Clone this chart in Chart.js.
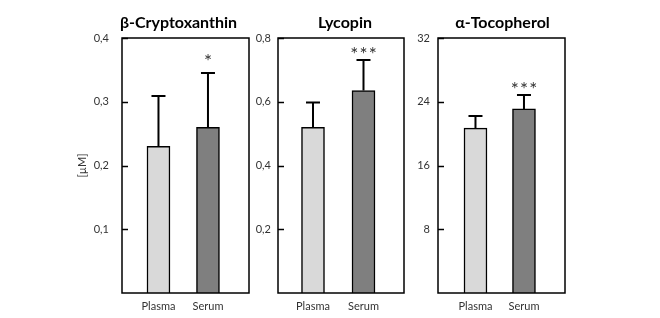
<!DOCTYPE html>
<html>
<head>
<meta charset="utf-8">
<script src="https://cdn.jsdelivr.net/npm/chart.js@4"></script>
<style>
  html, body { margin: 0; padding: 0; background: #fff; }
  body { width: 660px; height: 318px; position: relative; overflow: hidden; }
  .panel { position: absolute; top: 0; }
</style>
</head>
<body>
<div class="panel" style="left:72px"><canvas id="c1" width="183" height="318"></canvas></div>
<div class="panel" style="left:240px"><canvas id="c2" width="170" height="318"></canvas></div>
<div class="panel" style="left:405px"><canvas id="c3" width="166" height="318"></canvas></div>
<script>
// Datos
const categories = ['Plasma', 'Serum'];
const titles = ['β-Cryptoxanthin', 'Lycopin', 'α-Tocopherol'];

const cryptoMean = [0.23, 0.26];
const cryptoSd = [0.079, 0.085];
const cryptoStars = ['', '*'];

const lycoMean = [0.52, 0.635];
const lycoSd = [0.078, 0.096];
const lycoStars = ['', '***'];

const tocoMean = [20.7, 23.1];
const tocoSd = [1.5, 1.75];
const tocoStars = ['', '***'];

const yMax = [0.4, 0.8, 32];
const yStep = [0.1, 0.2, 8];

const barColors = ['#d9d9d9', '#7f7f7f'];
const FONT = 'Lato, "Open Sans", sans-serif';

// Marco, marcas del eje, barras de error, asteriscos y título
const panelPlugin = {
  id: 'panelPlugin',
  afterDatasetsDraw(chart) {
    const ctx = chart.ctx;
    const area = chart.chartArea;
    const y = chart.scales.y;
    const p = chart.options.plugins.panelPlugin;

    ctx.save();
    // marcas hacia dentro
    ctx.strokeStyle = '#000';
    ctx.lineWidth = 1.5;
    y.ticks.forEach(t => {
      if (t.value === 0) return;
      const py = Math.round(y.getPixelForValue(t.value)) + 0.5;
      ctx.beginPath();
      ctx.moveTo(area.left, py);
      ctx.lineTo(area.left + 6, py);
      ctx.stroke();
    });

    // barras de error
    const meta = chart.getDatasetMeta(0);
    ctx.lineWidth = 2;
    meta.data.forEach((bar, i) => {
      const top = y.getPixelForValue(p.mean[i] + p.sd[i]);
      ctx.beginPath();
      ctx.moveTo(bar.x, bar.y);
      ctx.lineTo(bar.x, top);
      ctx.moveTo(bar.x - 7, top);
      ctx.lineTo(bar.x + 7, top);
      ctx.stroke();
      if (p.stars[i]) {
        ctx.fillStyle = '#333';
        ctx.font = '19px ' + FONT;
        ctx.textAlign = 'center';
        ctx.textBaseline = 'alphabetic';
        ctx.fillText(p.stars[i].split('').join('\u200a'), bar.x, top + 1 - p.starLift);
      }
    });

    // marco
    ctx.lineWidth = 1.5;
    ctx.strokeRect(area.left, area.top, area.right - area.left, area.bottom - area.top);

    // título
    ctx.fillStyle = '#000';
    ctx.font = 'bold 16px ' + FONT;
    ctx.textAlign = 'center';
    ctx.textBaseline = 'middle';
    ctx.fillText(p.title, (area.left + area.right) / 2 + p.titleShift, 23);
    ctx.restore();
  }
};

function fmt(v, step) {
  if (v === 0) return '';
  return step < 1 ? v.toFixed(1).replace('.', ',') : String(v);
}

function buildPanel(canvasId, idx, mean, sd, stars, cfg) {
  return new Chart(document.getElementById(canvasId), {
    type: 'bar',
    data: {
      datasets: [{
        data: mean.map((v, i) => ({ x: i + 1, y: v })),
        backgroundColor: barColors,
        borderColor: '#000',
        borderWidth: 1.5,
        barThickness: 23,
      }]
    },
    plugins: [panelPlugin],
    options: {
      responsive: false,
      animation: false,
      layout: { padding: { top: 38, right: 6, left: 0, bottom: 0 } },
      plugins: {
        legend: { display: false },
        tooltip: { enabled: false },
        panelPlugin: { mean, sd, stars, title: titles[idx], titleShift: cfg.titleShift, starLift: cfg.starLift || 0 }
      },
      scales: {
        x: {
          type: 'linear',
          min: cfg.xMin,
          max: cfg.xMax,
          offset: false,
          grid: { display: false, drawTicks: false },
          border: { display: false },
          afterBuildTicks: s => { s.ticks = categories.map((c, i) => ({ value: i + 1 })); },
          afterFit: s => { s.height = 25; },
          ticks: {
            autoSkip: false,
            maxRotation: 0,
            padding: 7,
            color: '#333',
            font: { family: FONT, size: 11 },
            callback: v => categories[v - 1] || ''
          }
        },
        y: {
          min: 0,
          max: yMax[idx],
          grid: { display: false, drawTicks: false },
          border: { display: false },
          afterFit: s => { s.width = cfg.yWidth; },
          title: {
            display: !!cfg.yTitle,
            text: cfg.yTitle || '',
            color: '#333',
            font: { family: FONT, size: 11 }
          },
          ticks: {
            stepSize: yStep[idx],
            padding: cfg.tickPad,
            color: '#333',
            font: { family: FONT, size: 11 },
            callback: v => fmt(v, yStep[idx])
          }
        }
      }
    }
  });
}

buildPanel('c1', 0, cryptoMean, cryptoSd, cryptoStars,
  { xMin: 0.263, xMax: 2.829, yWidth: 50, tickPad: 13, yTitle: '[µM]', titleShift: -7, starLift: 6 });
buildPanel('c2', 1, lycoMean, lycoSd, lycoStars,
  { xMin: 0.307, xMax: 2.802, yWidth: 38, tickPad: 7, titleShift: 4 });
buildPanel('c3', 2, tocoMean, tocoSd, tocoStars,
  { xMin: 0.227, xMax: 2.846, yWidth: 33, tickPad: 8, titleShift: 1 });
</script>
</body>
</html>
